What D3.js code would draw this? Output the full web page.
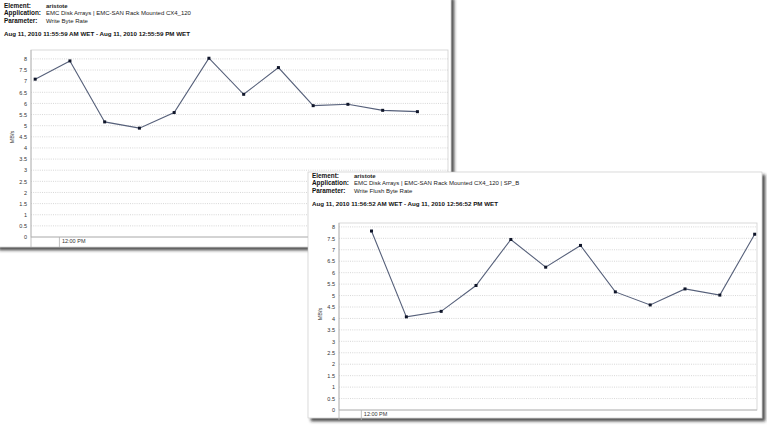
<!DOCTYPE html>
<html>
<head>
<meta charset="utf-8">
<script src="https://cdn.jsdelivr.net/npm/d3@7"></script>
<style>
  body { margin: 0; background: #fff; }
  svg { display: block; }
</style>
</head>
<body>
<svg id="chart" width="767" height="426"></svg>
<script>
// ---- Data ----
const headerLabels = ["Element:", "Application:", "Parameter:"];
const headerValues1 = ["aristote", "EMC Disk Arrays | EMC-SAN Rack Mounted CX4_120", "Write Byte Rate"];
const headerValues2 = ["aristote", "EMC Disk Arrays | EMC-SAN Rack Mounted CX4_120 | SP_B", "Write Flush Byte Rate"];
const period1 = "Aug 11, 2010 11:55:59 AM WET - Aug 11, 2010 12:55:59 PM WET";
const period2 = "Aug 11, 2010 11:56:52 AM WET - Aug 11, 2010 12:56:52 PM WET";

const range1 = ["11:55:59", "12:55:59"];
const range2 = ["11:56:52", "12:56:52"];

const times1 = ["11:56:35", "12:01:35", "12:06:35", "12:11:35", "12:16:35", "12:21:35",
                "12:26:35", "12:31:35", "12:36:35", "12:41:35", "12:46:35", "12:51:35"];
const values1 = [7.09, 7.91, 5.17, 4.89, 5.59, 8.03, 6.41, 7.61, 5.90, 5.96, 5.69, 5.63];

const times2 = ["12:01:32", "12:06:32", "12:11:32", "12:16:32", "12:21:32", "12:26:32",
                "12:31:32", "12:36:32", "12:41:32", "12:46:32", "12:51:32", "12:56:32"];
const values2 = [7.82, 4.07, 4.31, 5.44, 7.45, 6.24, 7.19, 5.16, 4.59, 5.29, 5.02, 7.68];

const yTicks = [0, 0.5, 1, 1.5, 2, 2.5, 3, 3.5, 4, 4.5, 5, 5.5, 6, 6.5, 7, 7.5, 8];
const xTicks = ["12:00:00"];
const yLabel = "MB/s";

const parseTime = s => d3.timeParse("%Y-%m-%d %H:%M:%S")("2010-08-11 " + s);
const fmtX = d3.timeFormat("%I:%M %p");
const font = "Liberation Sans, Arial, sans-serif";

const svg = d3.select("#chart");

// ---- Drop shadow for the windows ----
const defs = svg.append("defs");
const filt = defs.append("filter").attr("id", "shadow")
    .attr("x", "-5%").attr("y", "-5%").attr("width", "115%").attr("height", "115%");
filt.append("feDropShadow")
    .attr("dx", 3).attr("dy", 3).attr("stdDeviation", 1.4)
    .attr("flood-color", "#222").attr("flood-opacity", 0.8);

function drawPanel(p) {
    const g = svg.append("g");

    // window
    g.append("rect")
        .attr("x", p.win[0]).attr("y", p.win[1])
        .attr("width", p.win[2]).attr("height", p.win[3])
        .attr("fill", "#fff")
        .attr("stroke", "#c4c4c4").attr("stroke-width", 0.6)
        .attr("filter", "url(#shadow)");

    // ---- Header ----
    const hx = p.headerX, hv = p.headerX + 42;
    g.selectAll(".hlab")
        .data(headerLabels)
        .join("text")
        .attr("x", hx)
        .attr("y", (d, i) => p.headerY + i * 7.4)
        .attr("font-family", font)
        .attr("font-size", 6.4)
        .attr("font-weight", "bold")
        .attr("fill", "#111")
        .text(d => d);

    g.selectAll(".hval")
        .data(p.headerValues)
        .join("text")
        .attr("x", hv)
        .attr("y", (d, i) => p.headerY + i * 7.4)
        .attr("font-family", font)
        .attr("font-size", 6)
        .attr("font-weight", (d, i) => i === 0 ? "bold" : "normal")
        .attr("fill", "#222")
        .text(d => d);

    g.append("text")
        .attr("x", hx)
        .attr("y", p.headerY + 28)
        .attr("font-family", font)
        .attr("font-size", 6.2)
        .attr("font-weight", "bold")
        .attr("fill", "#111")
        .text(p.period);

    // ---- Scales ----
    const [l, t, r, b] = p.plot;
    const x = d3.scaleTime()
        .domain(p.range.map(parseTime))
        .range([l, r]);
    const y = d3.scaleLinear()
        .domain([0, p.yMax])
        .range([b, t]);

    // plot frame
    g.append("rect")
        .attr("x", l).attr("y", t)
        .attr("width", r - l).attr("height", b - t)
        .attr("fill", "#fff")
        .attr("stroke", "#cfcfcf").attr("stroke-width", 0.8);

    // gridlines
    g.selectAll(".grid")
        .data(yTicks.filter(v => v > 0))
        .join("line")
        .attr("x1", l).attr("x2", r)
        .attr("y1", d => y(d)).attr("y2", d => y(d))
        .attr("stroke", "#c6c6c6")
        .attr("stroke-width", 0.7)
        .attr("stroke-dasharray", "1,1.2");

    // left axis line (runs down through the time band)
    g.append("line")
        .attr("x1", l).attr("x2", l)
        .attr("y1", t).attr("y2", b + 10)
        .attr("stroke", "#b0b0b0").attr("stroke-width", 0.8);
    g.append("line")
        .attr("x1", l).attr("x2", r)
        .attr("y1", b).attr("y2", b)
        .attr("stroke", "#b0b0b0").attr("stroke-width", 0.8);

    // ---- Y axis ----
    const yAxis = g.append("g")
        .attr("transform", `translate(${l},0)`)
        .call(d3.axisLeft(y).tickValues(yTicks).tickSize(0).tickPadding(4)
            .tickFormat(d3.format("")));
    yAxis.select(".domain").remove();
    yAxis.selectAll("text")
        .attr("font-family", font)
        .attr("font-size", 5.5)
        .attr("fill", "#333");

    g.append("text")
        .attr("transform", `translate(${p.yLabelPos[0]},${p.yLabelPos[1]}) rotate(-90)`)
        .attr("text-anchor", "middle")
        .attr("font-family", font)
        .attr("font-size", 5.5)
        .attr("fill", "#333")
        .text(yLabel);

    // ---- X axis ----
    const xAxis = g.append("g")
        .attr("transform", `translate(0,${b})`)
        .call(d3.axisBottom(x).tickValues(xTicks.map(parseTime)).tickSize(10)
            .tickFormat(fmtX));
    xAxis.select(".domain").remove();
    xAxis.selectAll("line").attr("stroke", "#b0b0b0").attr("stroke-width", 0.8);
    xAxis.selectAll("text")
        .attr("text-anchor", "start")
        .attr("x", 2.5)
        .attr("y", 2)
        .attr("dy", "0.71em")
        .attr("font-family", font)
        .attr("font-size", 5.5)
        .attr("fill", "#333");

    // ---- Series ----
    const pts = p.times.map((s, i) => ({ t: parseTime(s), v: p.values[i] }));
    const line = d3.line().x(d => x(d.t)).y(d => y(d.v));

    g.append("path")
        .datum(pts)
        .attr("d", line)
        .attr("fill", "none")
        .attr("stroke", "#56607a")
        .attr("stroke-width", 1.1);

    g.selectAll(".pt")
        .data(pts)
        .join("rect")
        .attr("x", d => x(d.t) - 1.5)
        .attr("y", d => y(d.v) - 1.5)
        .attr("width", 3).attr("height", 3)
        .attr("fill", "#10162a");
}

drawPanel({
    win: [-4, -4, 455, 251],
    headerX: 4, headerY: 8,
    headerValues: headerValues1, period: period1,
    plot: [31, 50, 448, 237],
    range: range1, yMax: 8.4,
    yLabelPos: [14, 137],
    times: times1, values: values1
});

drawPanel({
    win: [308, 172, 454, 246],
    headerX: 312, headerY: 178,
    headerValues: headerValues2, period: period2,
    plot: [339, 223, 757, 410],
    range: range2, yMax: 8.17,
    yLabelPos: [322, 314],
    times: times2, values: values2
});
</script>
</body>
</html>
